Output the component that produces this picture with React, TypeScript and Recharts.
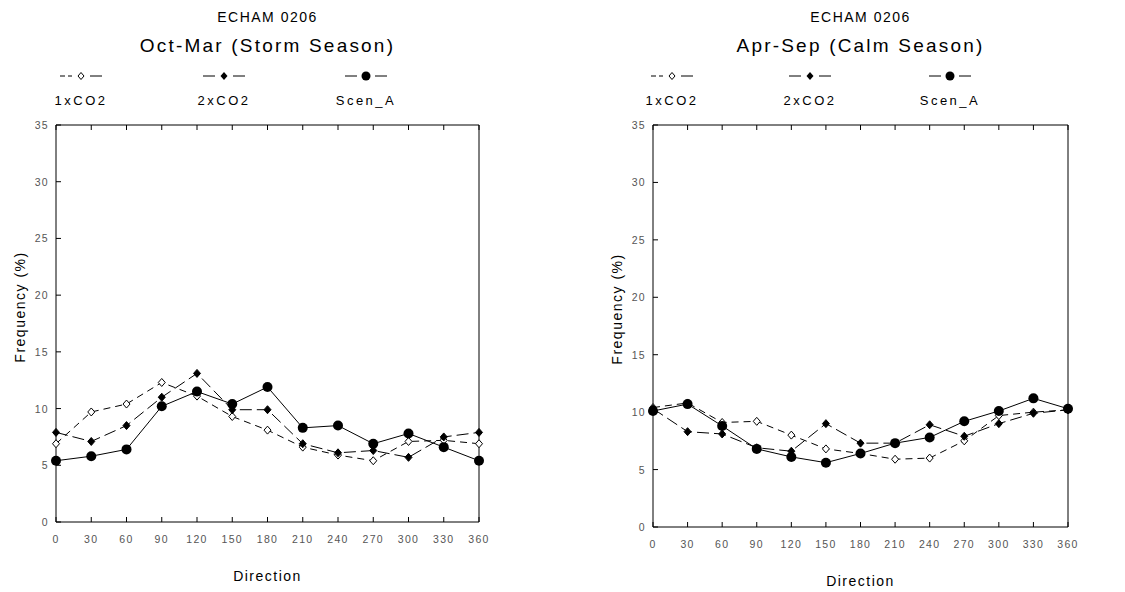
import React from 'react';
import { LineChart, Line, XAxis, YAxis } from 'recharts';

const directions = [0, 30, 60, 90, 120, 150, 180, 210, 240, 270, 300, 330, 360];
const freqTicks = [0, 5, 10, 15, 20, 25, 30, 35];
const seriesNames = ['1xCO2', '2xCO2', 'Scen_A'];

// Oct-Mar (storm season)
const storm1xCO2 = [6.9, 9.7, 10.4, 12.3, 11.1, 9.3, 8.1, 6.6, 5.9, 5.4, 7.1, 7.2, 6.9];
const storm2xCO2 = [7.9, 7.1, 8.5, 11.0, 13.1, 9.9, 9.9, 6.9, 6.1, 6.3, 5.7, 7.5, 7.9];
const stormScenA = [5.4, 5.8, 6.4, 10.2, 11.5, 10.4, 11.9, 8.3, 8.5, 6.9, 7.8, 6.6, 5.4];

// Apr-Sep (calm season)
const calm1xCO2 = [10.4, 10.8, 9.1, 9.2, 8.0, 6.8, 6.4, 5.9, 6.0, 7.5, 9.7, 10.0, 10.2];
const calm2xCO2 = [10.3, 8.3, 8.1, 6.9, 6.6, 9.0, 7.3, 7.3, 8.9, 7.9, 9.0, 9.9, 10.2];
const calmScenA = [10.1, 10.7, 8.8, 6.8, 6.1, 5.6, 6.4, 7.3, 7.8, 9.2, 10.1, 11.2, 10.3];

const font = '"Liberation Sans", Arial, sans-serif';

const OpenDiamond = (props: any) => {
  const { cx, cy } = props;
  if (cx == null || cy == null) return null;
  return <path d={`M${cx},${cy - 4}L${cx + 3.5},${cy}L${cx},${cy + 4}L${cx - 3.5},${cy}Z`} fill="#fff" stroke="#000" strokeWidth={1} />;
};

const FilledDiamond = (props: any) => {
  const { cx, cy } = props;
  if (cx == null || cy == null) return null;
  return <path d={`M${cx},${cy - 4}L${cx + 3.5},${cy}L${cx},${cy + 4}L${cx - 3.5},${cy}Z`} fill="#000" stroke="#000" strokeWidth={1} />;
};

const BigDot = (props: any) => {
  const { cx, cy } = props;
  if (cx == null || cy == null) return null;
  return <circle cx={cx} cy={cy} r={5} fill="#000" />;
};

const labelStyle = { fontSize: 10.5, fill: '#555', fontFamily: font, letterSpacing: 1.3 };

// inward tick marks with labels outside the box
const BottomTick = (props: any) => {
  const { x, y, payload } = props;
  return (
    <g>
      <line x1={x} y1={y} x2={x} y2={y - 5} stroke="#000" />
      <text x={x} y={y + 21} textAnchor="middle" {...labelStyle}>{payload.value}</text>
    </g>
  );
};
const TopTick = (props: any) => {
  const { x, y } = props;
  return <line x1={x} y1={y} x2={x} y2={y + 5} stroke="#000" />;
};
const LeftTick = (props: any) => {
  const { x, y, payload } = props;
  return (
    <g>
      <line x1={x} y1={y} x2={x + 5} y2={y} stroke="#000" />
      <text x={x - 7} y={y + 4} textAnchor="end" {...labelStyle}>{payload.value}</text>
    </g>
  );
};
const RightTick = (props: any) => {
  const { x, y } = props;
  return <line x1={x} y1={y} x2={x - 5} y2={y} stroke="#000" />;
};

const LegendMark = ({ kind }: { kind: number }) => (
  <svg width={50} height={12}>
    <line x1={4} y1={6} x2={16} y2={6} stroke="#000" strokeWidth={1} strokeDasharray={kind === 0 ? '5 3' : 'none'} />
    <line x1={34} y1={6} x2={46} y2={6} stroke="#000" strokeWidth={1} />
    {kind === 0 && <path d="M25,2.5L28,6L25,9.5L22,6Z" fill="#fff" stroke="#000" />}
    {kind === 1 && <path d="M25,2L28.5,6L25,10L21.5,6Z" fill="#000" />}
    {kind === 2 && <circle cx={25} cy={6} r={4.5} fill="#000" />}
  </svg>
);

type PanelProps = {
  left: number;
  width: number;
  plotLeft: number;
  plotRight: number;
  plotTop: number;
  plotBottom: number;
  title: string;
  a: number[];
  b: number[];
  c: number[];
  legendX: number[];
};

function Panel({ left, width, plotLeft, plotRight, plotTop, plotBottom, title, a, b, c, legendX }: PanelProps) {
  const data = directions.map((d, i) => ({ dir: d, a: a[i], b: b[i], c: c[i] }));
  const center = (plotLeft + plotRight) / 2;
  return (
    <div style={{ position: 'absolute', left, top: 0, width, height: 592 }}>
      <div style={{ position: 'absolute', left: center - 150, width: 300, top: 9, textAlign: 'center', fontSize: 14, letterSpacing: 1.5, fontFamily: font }}>
        ECHAM 0206
      </div>
      <div style={{ position: 'absolute', left: center - 200, width: 400, top: 35, textAlign: 'center', fontSize: 19, letterSpacing: 2.2, fontFamily: font }}>
        {title}
      </div>
      {seriesNames.map((n, i) => (
        <React.Fragment key={n}>
          <div style={{ position: 'absolute', left: legendX[i] - 25, top: 70, lineHeight: 0 }}>
            <LegendMark kind={i} />
          </div>
          <div style={{ position: 'absolute', left: legendX[i] - 50, width: 100, top: 93, textAlign: 'center', fontSize: 13, letterSpacing: 2.5, fontFamily: font }}>
            {n}
          </div>
        </React.Fragment>
      ))}
      <div
        style={{
          position: 'absolute',
          left: plotLeft - 36 - 100,
          width: 200,
          top: (plotTop + plotBottom) / 2 - 25,
          textAlign: 'center',
          transform: 'rotate(-90deg)',
          fontSize: 14,
          letterSpacing: 1.5,
          fontFamily: font,
        }}
      >
        Frequency (%)
      </div>
      <div style={{ position: 'absolute', left: center - 100, width: 200, top: plotBottom + 46, textAlign: 'center', fontSize: 14, letterSpacing: 1.5, fontFamily: font }}>
        Direction
      </div>
      <div style={{ position: 'absolute', left: 0, top: 0 }}>
        <LineChart
          width={width}
          height={592}
          data={data}
          margin={{ top: plotTop - 2, right: width - plotRight - 2, bottom: 0, left: plotLeft - 26 }}
        >
          <XAxis
            dataKey="dir"
            type="number"
            domain={[0, 360]}
            ticks={directions}
            height={592 - plotBottom}
            tickSize={0}
            tickMargin={0}
            tick={<BottomTick />}
            axisLine={{ stroke: '#000' }}
            tickLine={false}
          />
          <XAxis
            xAxisId="top"
            orientation="top"
            dataKey="dir"
            type="number"
            domain={[0, 360]}
            ticks={directions}
            height={2}
            tickSize={0}
            tickMargin={0}
            tick={<TopTick />}
            axisLine={{ stroke: '#000' }}
            tickLine={false}
          />
          <YAxis
            type="number"
            domain={[0, 35]}
            ticks={freqTicks}
            width={26}
            tickSize={0}
            tickMargin={0}
            tick={<LeftTick />}
            axisLine={{ stroke: '#000' }}
            tickLine={false}
          />
          <YAxis
            yAxisId="right"
            orientation="right"
            type="number"
            domain={[0, 35]}
            ticks={freqTicks}
            width={2}
            tickSize={0}
            tickMargin={0}
            tick={<RightTick />}
            axisLine={{ stroke: '#000' }}
            tickLine={false}
          />
          <Line dataKey="a" stroke="#000" strokeWidth={1} strokeDasharray="7 5" dot={<OpenDiamond />} isAnimationActive={false} />
          <Line dataKey="b" stroke="#000" strokeWidth={1} strokeDasharray="12 5" dot={<FilledDiamond />} isAnimationActive={false} />
          <Line dataKey="c" stroke="#000" strokeWidth={1} dot={<BigDot />} isAnimationActive={false} />
        </LineChart>
      </div>
    </div>
  );
}

export default function App() {
  return (
    <div style={{ position: 'absolute', left: 0, top: 0, width: 1125, height: 592, background: '#fff' }}>
      <Panel
        left={0}
        width={560}
        plotLeft={56}
        plotRight={479}
        plotTop={125}
        plotBottom={522}
        title="Oct-Mar (Storm Season)"
        a={storm1xCO2}
        b={storm2xCO2}
        c={stormScenA}
        legendX={[81, 224, 366]}
      />
      <Panel
        left={560}
        width={565}
        plotLeft={93}
        plotRight={508}
        plotTop={125}
        plotBottom={527}
        title="Apr-Sep (Calm Season)"
        a={calm1xCO2}
        b={calm2xCO2}
        c={calmScenA}
        legendX={[112, 250, 390]}
      />
    </div>
  );
}
